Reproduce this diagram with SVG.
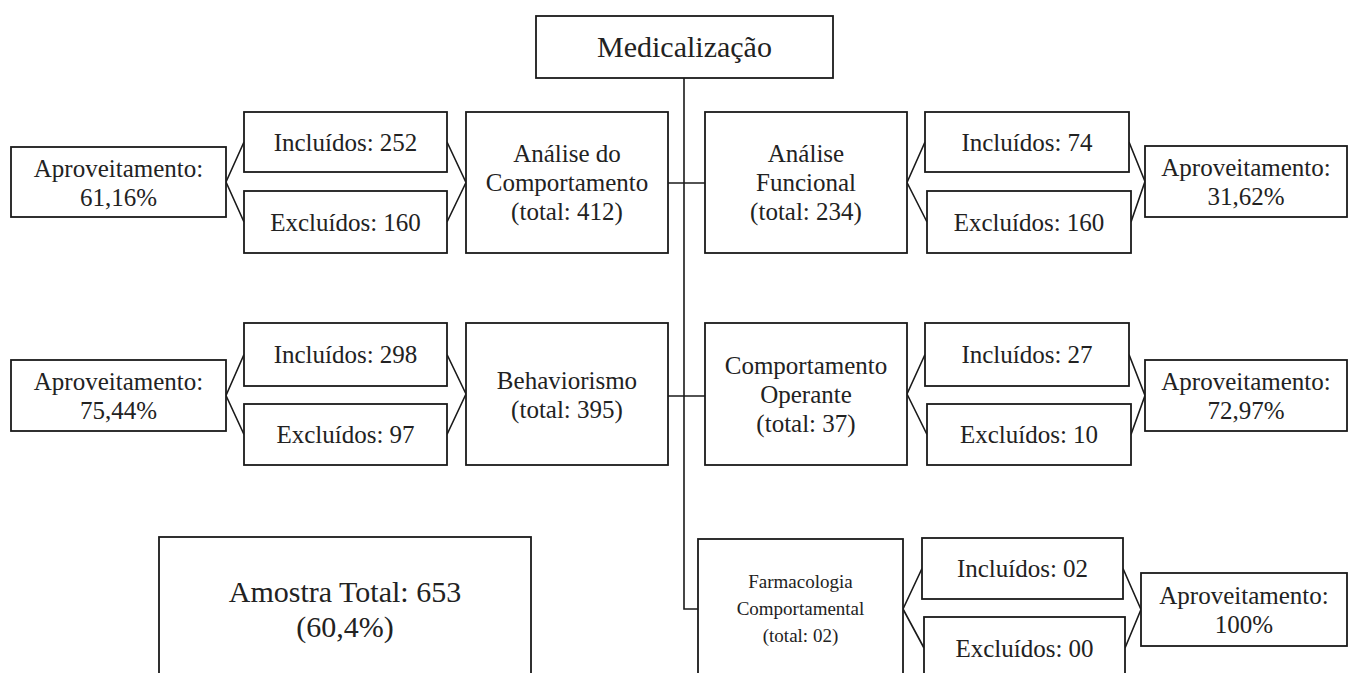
<svg xmlns="http://www.w3.org/2000/svg" width="1351" height="673" viewBox="0 0 1351 673">
<style>
rect{fill:#fff;stroke:#1a1a1a;stroke-width:1.8}
.c{fill:none;stroke:#1a1a1a;stroke-width:1.6}
text{font-family:"Liberation Serif","Times New Roman",serif;font-size:25px;fill:#222;text-anchor:middle}
.s{font-size:19px}
.l{font-size:30px}
</style>
<rect x="0" y="0" width="1351" height="673" style="fill:#fff;stroke:none"/>
<g id="connectors" class="c">
<path d="M684,78 V609 H698"/>
<path d="M668,183 H705"/>
<path d="M668,396 H705"/>
<path d="M226,182 L244,142 M226,182 L244,222 M447,142 L466,182.5 M447,222 L466,182.5"/>
<path d="M226,395.5 L244,354.5 M226,395.5 L244,434.5 M447,354.5 L466,394 M447,434.5 L466,394"/>
<path d="M907,182.5 L925,142 M907,182.5 L927,222 M1129,142 L1145,181.5 M1131,222 L1145,181.5"/>
<path d="M907,394 L925,354.5 M907,394 L927,434.5 M1129,354.5 L1145,395.5 M1131,434.5 L1145,395.5"/>
<path d="M903,609 L922,568.5 M903,609 L924,648 M1123,568.5 L1141,609.5 M1125,648 L1141,609.5"/>
</g>
<g id="medicalizacao"><rect x="536" y="16" width="297" height="62"/><text x="684.5" y="57" class="l">Medicalização</text></g>

<g id="aprov1"><rect x="11" y="147" width="215" height="70"/><text x="118.5" y="177">Aproveitamento:</text><text x="118.5" y="206">61,16%</text></g>
<g id="inc1"><rect x="244" y="112" width="203" height="60"/><text x="345.5" y="150.5">Incluídos: 252</text></g>
<g id="exc1"><rect x="244" y="191" width="203" height="62"/><text x="345.5" y="231">Excluídos: 160</text></g>
<g id="analise-comportamento"><rect x="466" y="112" width="202" height="141"/><text x="567" y="162">Análise do</text><text x="567" y="191">Comportamento</text><text x="567" y="220">(total: 412)</text></g>

<g id="analise-funcional"><rect x="705" y="112" width="202" height="141"/><text x="806" y="162">Análise</text><text x="806" y="191">Funcional</text><text x="806" y="220">(total: 234)</text></g>
<g id="inc2"><rect x="925" y="112" width="204" height="60"/><text x="1027" y="150.5">Incluídos: 74</text></g>
<g id="exc2"><rect x="927" y="191" width="204" height="62"/><text x="1029" y="231">Excluídos: 160</text></g>
<g id="aprov2"><rect x="1145" y="146" width="202" height="71"/><text x="1246" y="176">Aproveitamento:</text><text x="1246" y="205">31,62%</text></g>

<g id="aprov3"><rect x="11" y="360" width="215" height="71"/><text x="118.5" y="390">Aproveitamento:</text><text x="118.5" y="419">75,44%</text></g>
<g id="inc3"><rect x="244" y="323" width="203" height="63"/><text x="345.5" y="363">Incluídos: 298</text></g>
<g id="exc3"><rect x="244" y="404" width="203" height="61"/><text x="345.5" y="443">Excluídos: 97</text></g>
<g id="behaviorismo"><rect x="466" y="323" width="202" height="142"/><text x="567" y="389">Behaviorismo</text><text x="567" y="418">(total: 395)</text></g>

<g id="comportamento-operante"><rect x="705" y="323" width="202" height="142"/><text x="806" y="374">Comportamento</text><text x="806" y="403">Operante</text><text x="806" y="432">(total: 37)</text></g>
<g id="inc4"><rect x="925" y="323" width="204" height="63"/><text x="1027" y="363">Incluídos: 27</text></g>
<g id="exc4"><rect x="927" y="404" width="204" height="61"/><text x="1029" y="443">Excluídos: 10</text></g>
<g id="aprov4"><rect x="1145" y="360" width="202" height="71"/><text x="1246" y="390">Aproveitamento:</text><text x="1246" y="419">72,97%</text></g>

<g id="farmacologia"><rect x="698" y="539" width="205" height="142"/><text x="800.5" y="588" class="s">Farmacologia</text><text x="800.5" y="615" class="s">Comportamental</text><text x="800.5" y="642" class="s">(total: 02)</text></g>
<g id="inc5"><rect x="922" y="538" width="201" height="61"/><text x="1022.5" y="577">Incluídos: 02</text></g>
<g id="exc5"><rect x="924" y="617" width="201" height="64"/><text x="1024.5" y="657">Excluídos: 00</text></g>
<g id="aprov5"><rect x="1141" y="573" width="206" height="73"/><text x="1244" y="604">Aproveitamento:</text><text x="1244" y="633">100%</text></g>

<g id="amostra"><rect x="159" y="537" width="372" height="146"/><text x="345" y="602" class="l">Amostra Total: 653</text><text x="345" y="637" class="l">(60,4%)</text></g>
</svg>
